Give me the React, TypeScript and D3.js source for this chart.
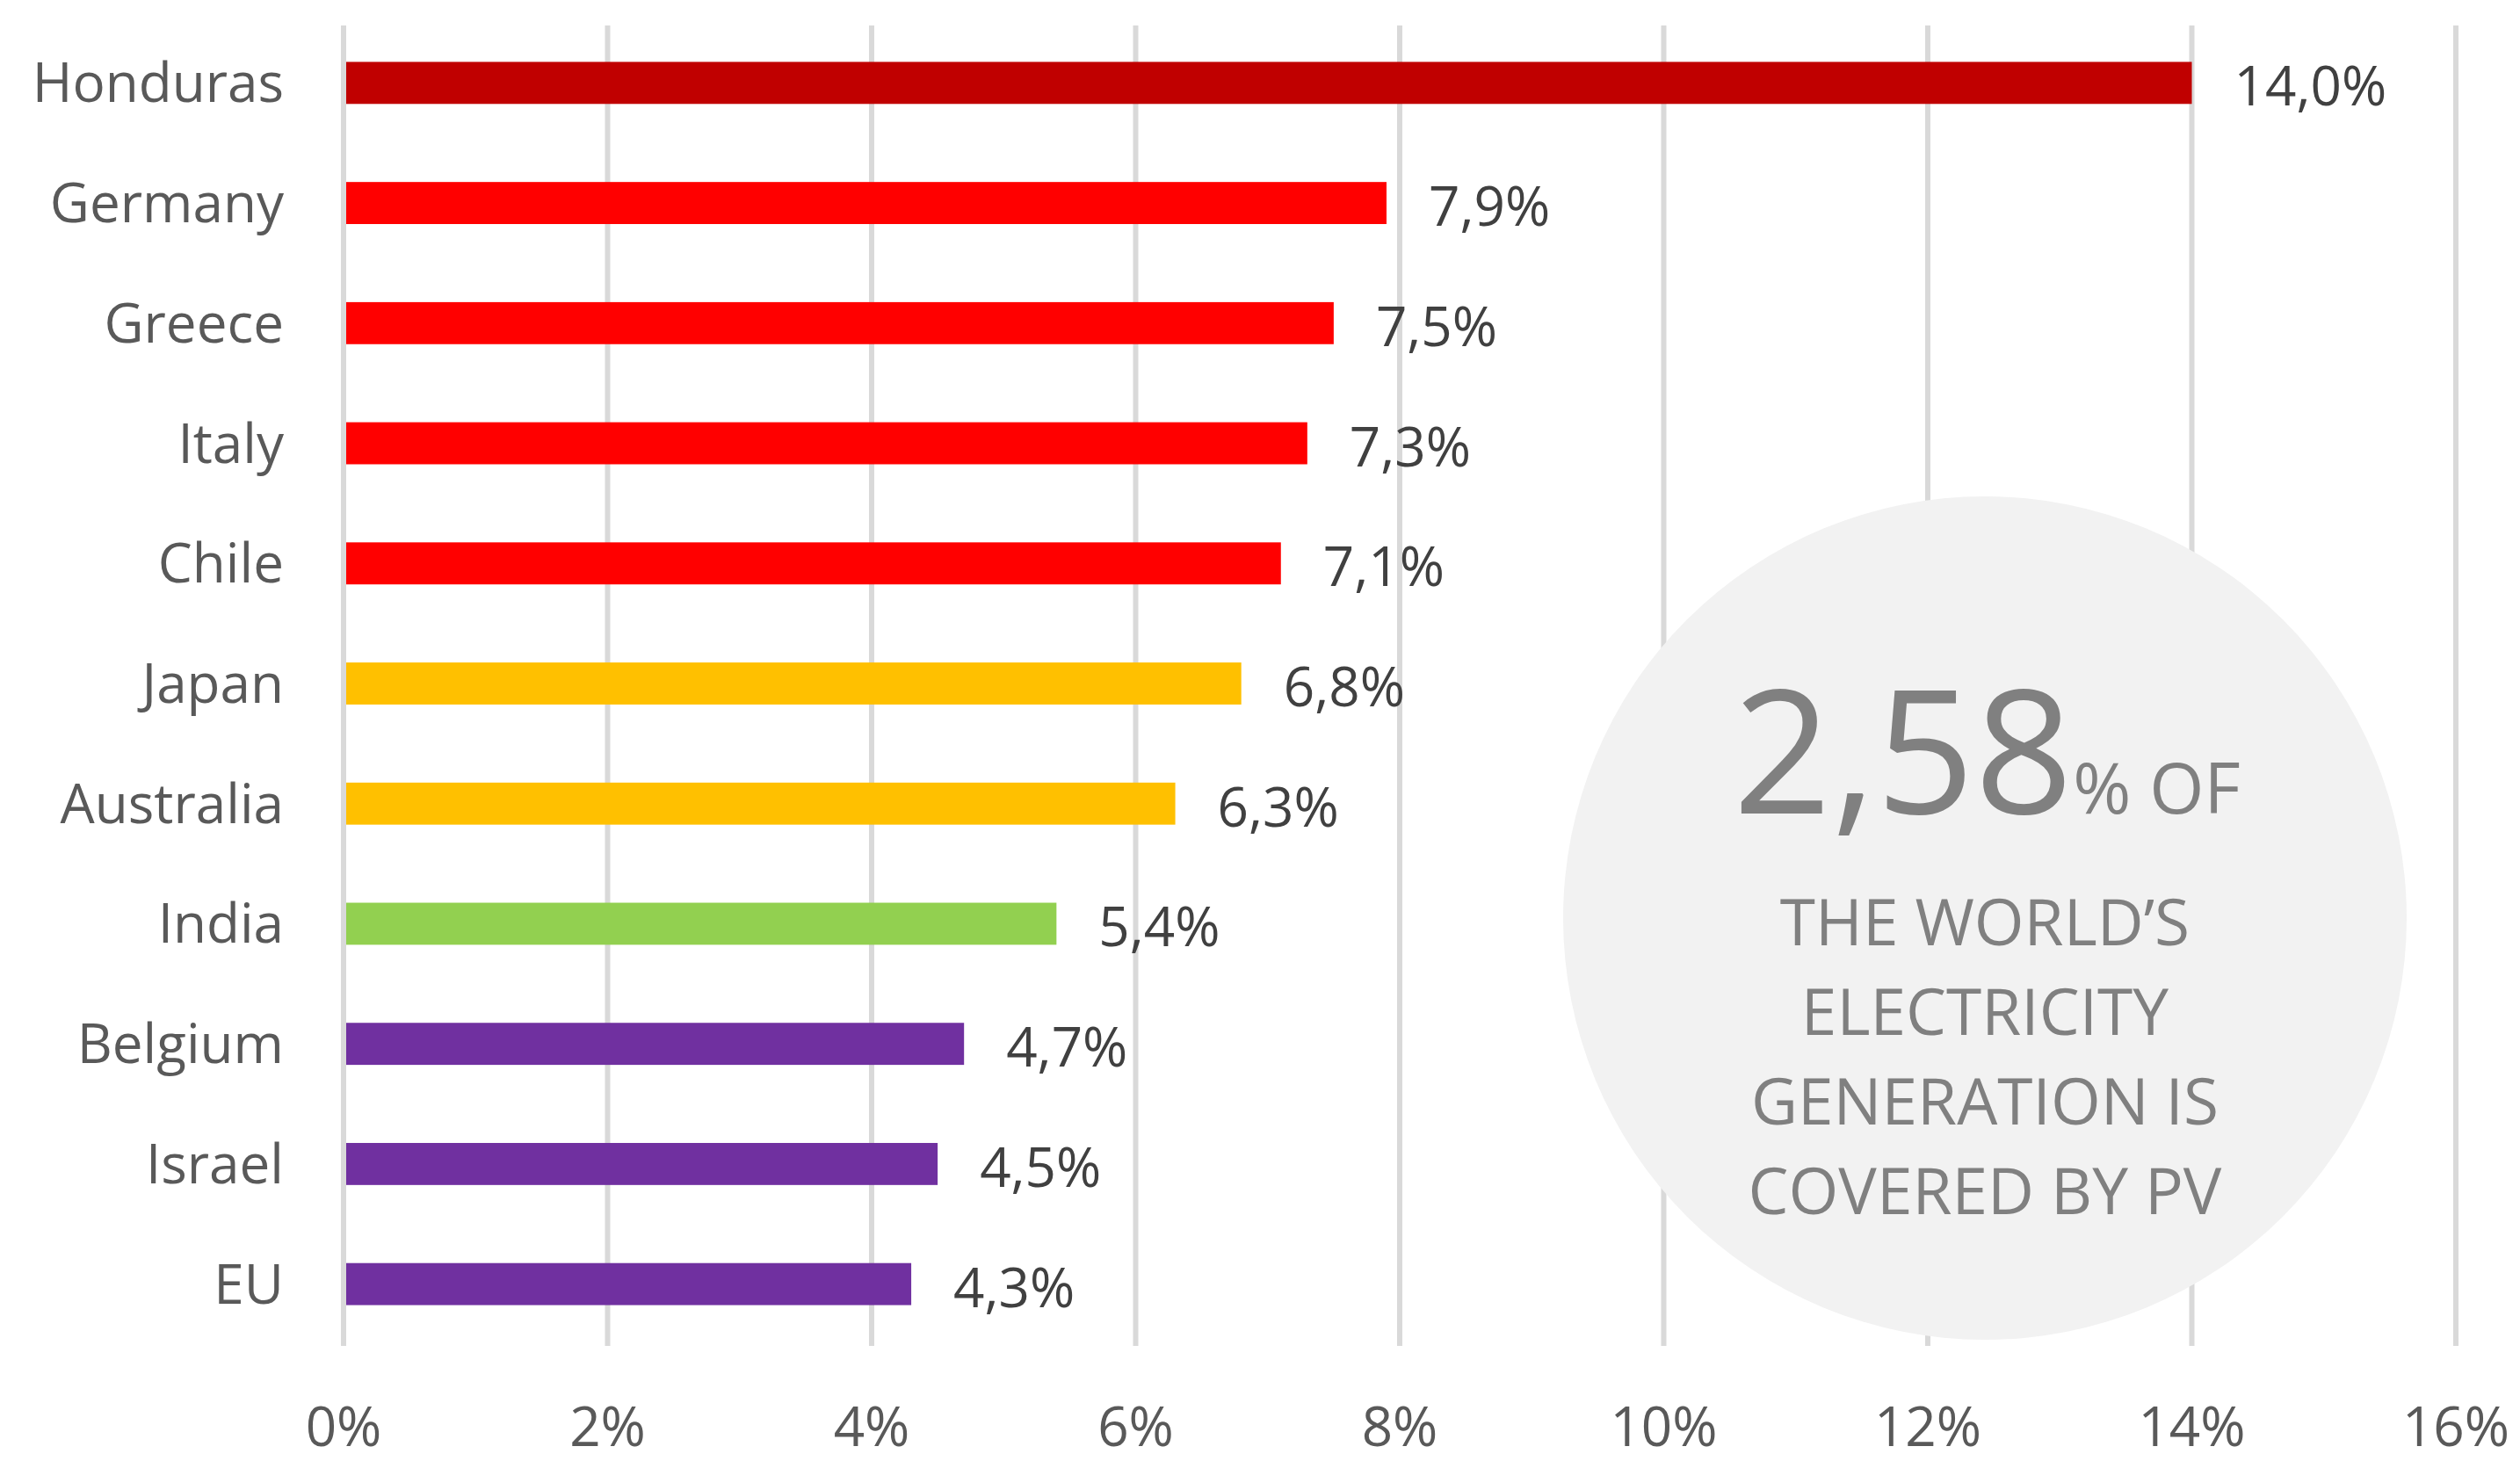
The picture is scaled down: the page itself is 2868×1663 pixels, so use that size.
import React from 'react';
import * as d3 from 'd3';

const countries = ['Honduras', 'Germany', 'Greece', 'Italy', 'Chile', 'Japan', 'Australia', 'India', 'Belgium', 'Israel', 'EU'];
const shares = [14.0, 7.9, 7.5, 7.3, 7.1, 6.8, 6.3, 5.4, 4.7, 4.5, 4.3];
const barColors = ['#C00000', '#FF0000', '#FF0000', '#FF0000', '#FF0000', '#FFC000', '#FFC000', '#92D050', '#7030A0', '#7030A0', '#7030A0'];
const xTicks = [0, 2, 4, 6, 8, 10, 12, 14, 16];
const worldShare = '2,58';
const calloutLines = ['THE WORLD\u2019S', 'ELECTRICITY', 'GENERATION IS', 'COVERED BY PV'];

const fmt = (v: number) => v.toFixed(1).replace('.', ',') + '%';

export default function App() {
  const width = 2868;
  const height = 1663;
  const font = "'Open Sans', sans-serif";

  const xScale = d3.scaleLinear().domain([0, 16]).range([391, 2795]);
  const yScale = d3.scaleBand()
    .domain(countries)
    .range([26, 1530])
    .paddingInner(0.65)
    .paddingOuter(0.325);

  const gridTop = 29;
  const gridBottom = 1532;
  const cx = 2259, cy = 1045, r = 480;

  return (
    <svg width={width} height={height}
      style={{ display: 'block', position: 'absolute', left: 0, top: 0, background: '#fff' }}>
      {xTicks.map(t => (
        <line key={'g' + t} x1={xScale(t)} x2={xScale(t)} y1={gridTop} y2={gridBottom}
          stroke="#d9d9d9" strokeWidth={6} />
      ))}
      <circle cx={cx} cy={cy} r={r} fill="#f2f2f2" />
      {countries.map((c, i) => {
        const y = yScale(c) as number;
        const bw = yScale.bandwidth();
        return (
          <g key={c}>
            <rect x={xScale(0) + 3} y={y} width={xScale(shares[i]) - xScale(0) - 3} height={bw} fill={barColors[i]} />
            <text x={323} y={y + bw / 2 + 22} textAnchor="end" fontFamily={font}
              fontSize={62} fill="#595959">{c}</text>
            <text x={xScale(shares[i]) + 48} y={y + bw / 2 + 26} fontFamily={font}
              fontSize={62} fill="#404040">{fmt(shares[i])}</text>
          </g>
        );
      })}
      {xTicks.map(t => (
        <text key={'t' + t} x={xScale(t)} y={1646} textAnchor="middle" fontFamily={font}
          fontSize={62} fill="#595959">{t + '%'}</text>
      ))}
      <text x={cx + 2} y={926} textAnchor="middle" fontFamily={font} fill="#808080">
        <tspan fontSize={196}>{worldShare}</tspan>
        <tspan fontSize={80}>% OF</tspan>
      </text>
      {calloutLines.map((l, i) => (
        <text key={l} x={cx} y={1076 + i * 102} textAnchor="middle" fontFamily={font}
          fontSize={73} fill="#808080">{l}</text>
      ))}
    </svg>
  );
}
